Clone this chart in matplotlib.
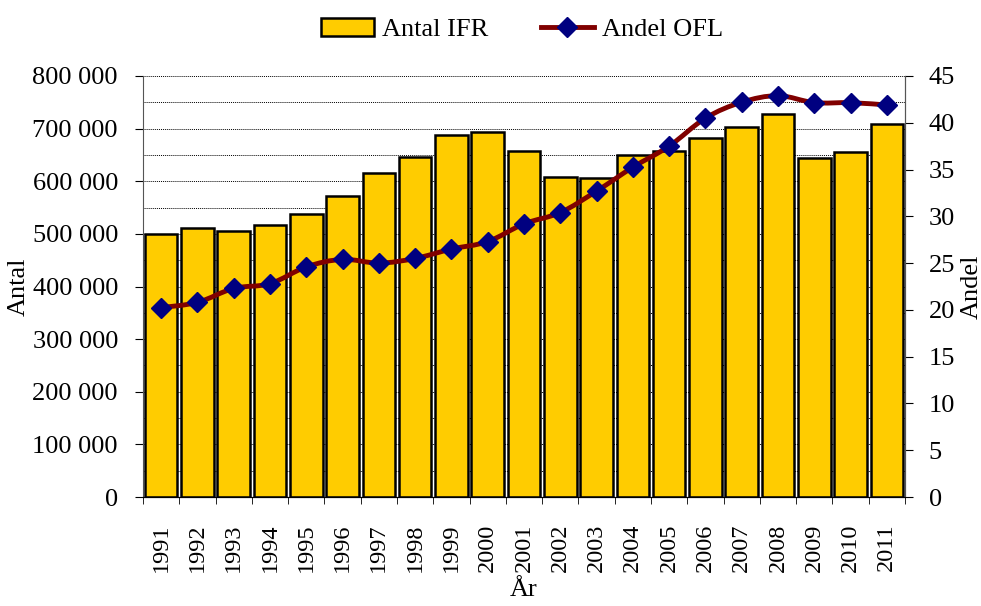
import numpy as np
import matplotlib
matplotlib.use("Agg")
import matplotlib.pyplot as plt
from matplotlib.path import Path
from matplotlib.patches import PathPatch
from matplotlib.lines import Line2D
from matplotlib.patches import Patch

plt.rcParams['font.family'] = ['Liberation Serif', 'DejaVu Serif']

years = [str(y) for y in range(1991, 2012)]
antal_ifr = [500000, 511000, 506000, 517000, 538000, 572000, 616000, 646000, 688000, 694000,
             658000, 608000, 606000, 650000, 658000, 682000, 703000, 727000, 645000, 655000, 708000]
andel_ofl = [20.25, 20.8, 22.3, 22.8, 24.6, 25.4, 25.0, 25.5, 26.5, 27.3,
             29.2, 30.4, 32.7, 35.25, 37.5, 40.5, 42.2, 42.9, 42.15, 42.15, 41.9]

bar_color = '#FFCC00'
line_color = '#800000'
marker_color = '#000080'
fs = 19

fig = plt.figure(figsize=(9.81, 6.06), dpi=100)
ax = fig.add_axes([143 / 981, 1 - 497 / 606, (905 - 143) / 981, (497 - 76) / 606])
x = np.arange(len(years))

ax.bar(x, antal_ifr, width=0.9, color=bar_color, edgecolor='black', linewidth=1.8, zorder=2)
ax.set_xlim(-0.5, len(years) - 0.5)
ax.set_ylim(0, 800000)
ax.set_yticks(np.arange(0, 800001, 100000))
ax.set_yticklabels([f"{v:,}".replace(",", " ") for v in range(0, 800001, 100000)], fontsize=fs)
ax.set_yticks(np.arange(50000, 800000, 100000), minor=True)
ax.yaxis.grid(True, which='both', linestyle=(0, (1, 1)), color='black', linewidth=0.7)
ax.set_axisbelow(True)
ax.tick_params(axis='y', which='minor', length=0)
ax.tick_params(axis='y', which='major', length=6, direction='out', pad=12)

ax.set_xticks(x)
ax.set_xticklabels(years, rotation=90, fontsize=17.5)
ax.set_xticks(np.arange(-0.5, len(years)), minor=True)
ax.tick_params(axis='x', which='major', length=0, pad=19)
ax.tick_params(axis='x', which='minor', length=5, direction='out')

ax.spines['top'].set_visible(False)
ax.spines['left'].set_color('#555555')
ax.spines['right'].set_color('#555555')
ax.set_ylabel('Antal', fontsize=fs, labelpad=2)
ax.set_xlabel('År', fontsize=fs, labelpad=5)

ax2 = ax.twinx()
ax2.set_ylim(0, 45)
ax2.set_yticks(np.arange(0, 46, 5))
ax2.tick_params(axis='y', length=6, labelsize=fs, pad=11)
ax2.spines['top'].set_visible(False)
ax2.spines['right'].set_color('#555555')
ax2.spines['left'].set_visible(False)
ax2.set_ylabel('Andel', fontsize=fs, rotation=90, labelpad=4)

# smooth line through the points (Catmull-Rom as cubic Bezier)
pts = np.column_stack([x, andel_ofl]).astype(float)
verts = [tuple(pts[0])]
codes = [Path.MOVETO]
for i in range(len(pts) - 1):
    p0 = pts[i - 1] if i > 0 else pts[i]
    p1 = pts[i]
    p2 = pts[i + 1]
    p3 = pts[i + 2] if i + 2 < len(pts) else pts[i + 1]
    c1 = p1 + (p2 - p0) / 6
    c2 = p2 - (p3 - p1) / 6
    verts += [tuple(c1), tuple(c2), tuple(p2)]
    codes += [Path.CURVE4] * 3
ax2.add_patch(PathPatch(Path(verts, codes), facecolor='none', edgecolor=line_color,
                        linewidth=3.5, zorder=3))
ax2.plot(x, andel_ofl, linestyle='none', marker='D', markersize=10,
         color=marker_color, zorder=4)

handles = [Patch(facecolor=bar_color, edgecolor='black', linewidth=1.8, label='Antal IFR'),
           Line2D([0], [0], color=line_color, linewidth=3.5, marker='D', markersize=10,
                  markerfacecolor=marker_color, markeredgecolor=marker_color, label='Andel OFL')]
fig.legend(handles=handles, loc='upper center', bbox_to_anchor=(0.532, 1.01), ncol=2,
           frameon=False, fontsize=fs, handlelength=2.0, columnspacing=2.0, handletextpad=0.3)

fig.savefig('out.png', dpi=100)
